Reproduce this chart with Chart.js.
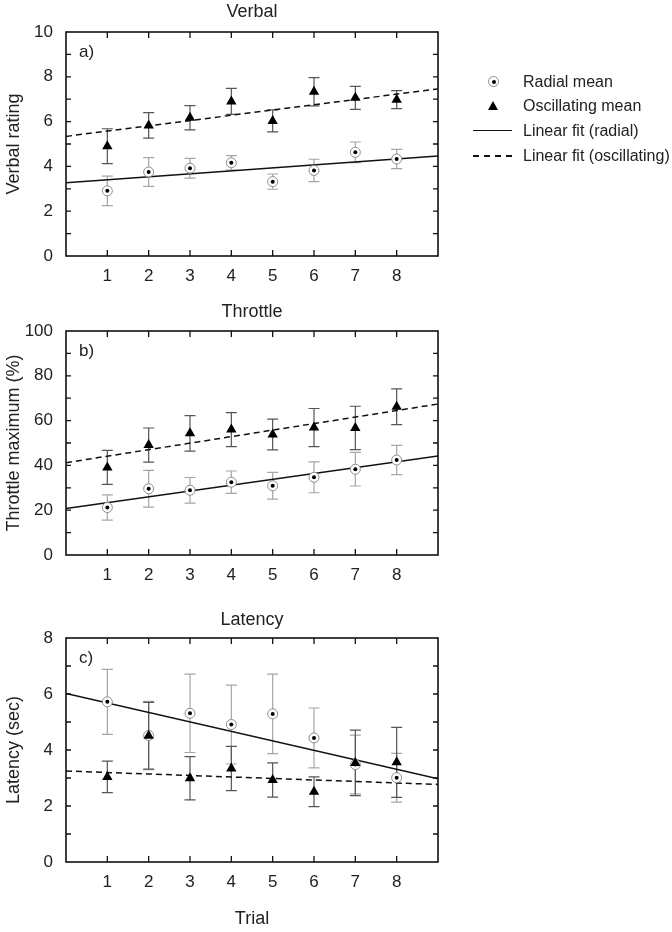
<!DOCTYPE html>
<html>
<head>
<meta charset="utf-8">
<script src="https://cdn.jsdelivr.net/npm/chart.js@4"></script>
<style>
  html, body { margin: 0; padding: 0; background: #fff; }
  body { width: 672px; height: 932px; position: relative; overflow: hidden;
         font-family: "Liberation Sans", Arial, Helvetica, sans-serif; color: #222; }
  canvas { position: absolute; left: 0; }
  .lg { position: absolute; }
  .lgtext { position: absolute; left: 523px; font-size: 16px; line-height: 20px; white-space: nowrap; color: #222; }
  .circ { width: 9px; height: 9px; border: 1px solid #8c8c8c; border-radius: 50%; background: #fff; }
  .dot { position: absolute; left: 2.5px; top: 2.5px; width: 4px; height: 4px; border-radius: 50%; background: #000; }
  .tri { width: 0; height: 0; border-left: 5.5px solid transparent; border-right: 5.5px solid transparent; border-bottom: 9.5px solid #000; }
  .solid { width: 39px; height: 0; border-top: 1.5px solid #111; }
  .dash { width: 39px; height: 1.5px; background: repeating-linear-gradient(to right, #111 0 6px, transparent 6px 11px); }
</style>
</head>
<body>
<canvas id="panelA" width="672" height="290" style="top:0px;width:672px;height:290px"></canvas>
<canvas id="panelB" width="672" height="290" style="top:299px;width:672px;height:290px"></canvas>
<canvas id="panelC" width="672" height="326" style="top:606px;width:672px;height:326px"></canvas>

<div class="lg circ" style="left:488px;top:76px"><div class="dot"></div></div>
<div class="lgtext" style="top:72px">Radial mean</div>
<div class="lg tri" style="left:488px;top:101px"></div>
<div class="lgtext" style="top:96px">Oscillating mean</div>
<div class="lg solid" style="left:473px;top:130px"></div>
<div class="lgtext" style="top:121px">Linear fit (radial)</div>
<div class="lg dash" style="left:473px;top:155px"></div>
<div class="lgtext" style="top:146px">Linear fit (oscillating)</div>

<script>
// ---------- data ----------
const trials = [1, 2, 3, 4, 5, 6, 7, 8];
const fitX = [0, 9];

const panelTitles = ['Verbal', 'Throttle', 'Latency'];
const yAxisTitles = ['Verbal rating', 'Throttle maximum (%)', 'Latency (sec)'];
const panelLetters = ['a)', 'b)', 'c)'];
const xAxisTitle = 'Trial';

// Verbal
const verbalRadialMean = [2.91, 3.75, 3.92, 4.16, 3.32, 3.82, 4.63, 4.33];
const verbalRadialErr  = [0.66, 0.64, 0.44, 0.32, 0.34, 0.50, 0.46, 0.43];
const verbalOscMean    = [4.90, 5.83, 6.17, 6.90, 6.03, 7.33, 7.06, 6.98];
const verbalOscErr     = [0.78, 0.57, 0.54, 0.58, 0.49, 0.63, 0.51, 0.40];
const verbalRadialFit  = [3.27, 4.46];
const verbalOscFit     = [5.34, 7.46];

// Throttle
const throttleRadialMean = [21.2, 29.6, 28.9, 32.5, 30.9, 34.7, 38.3, 42.4];
const throttleRadialErr  = [5.6, 8.2, 5.7, 5.0, 6.0, 6.9, 7.5, 6.5];
const throttleOscMean    = [39.1, 49.1, 54.3, 56.0, 53.8, 56.9, 56.7, 66.2];
const throttleOscErr     = [7.6, 7.6, 7.9, 7.6, 6.9, 8.5, 9.7, 8.0];
const throttleRadialFit  = [20.7, 44.2];
const throttleOscFit     = [41.2, 67.4];

// Latency
const latencyRadialMean = [5.72, 4.52, 5.31, 4.91, 5.29, 4.43, 3.48, 3.01];
const latencyRadialErr  = [1.16, 1.22, 1.40, 1.41, 1.42, 1.07, 1.05, 0.87];
const latencyOscMean    = [3.04, 4.51, 2.99, 3.34, 2.93, 2.51, 3.54, 3.56];
const latencyOscErr     = [0.56, 1.19, 0.77, 0.79, 0.61, 0.53, 1.17, 1.25];
const latencyRadialFit  = [6.02, 2.97];
const latencyOscFit     = [3.25, 2.77];

// ---------- rendering ----------
const FONT = '"Liberation Sans", Arial, Helvetica, sans-serif';
const TXT = '#222';
Chart.defaults.font.family = FONT;

const decoPlugin = {
  id: 'deco',
  beforeDatasetsDraw(chart) {
    const o = chart.options.plugins.deco;
    const { ctx, scales: { x, y } } = chart;
    o.errorBars.forEach(eb => {
      ctx.save();
      ctx.strokeStyle = eb.color;
      ctx.lineWidth = 1.2;
      eb.mean.forEach((m, i) => {
        const px = x.getPixelForValue(trials[i]);
        const top = y.getPixelForValue(m + eb.err[i]);
        const bot = y.getPixelForValue(m - eb.err[i]);
        ctx.beginPath();
        ctx.moveTo(px, top); ctx.lineTo(px, bot);
        ctx.moveTo(px - 5.5, top); ctx.lineTo(px + 5.5, top);
        ctx.moveTo(px - 5.5, bot); ctx.lineTo(px + 5.5, bot);
        ctx.stroke();
      });
      ctx.restore();
    });
  },
  afterDraw(chart) {
    const o = chart.options.plugins.deco;
    const { ctx, chartArea: a, scales: { x, y } } = chart;
    ctx.save();
    ctx.strokeStyle = '#111';
    ctx.lineWidth = 1.3;
    ctx.beginPath();
    trials.forEach(t => {
      const px = x.getPixelForValue(t);
      ctx.moveTo(px, a.bottom); ctx.lineTo(px, a.bottom - 6);
      ctx.moveTo(px, a.top); ctx.lineTo(px, a.top + 6);
    });
    for (let v = y.min + o.yStep; v < y.max - 1e-9; v += o.yStep) {
      const py = y.getPixelForValue(v);
      ctx.moveTo(a.left, py); ctx.lineTo(a.left + 5, py);
      ctx.moveTo(a.right, py); ctx.lineTo(a.right - 5, py);
    }
    ctx.stroke();
    ctx.lineWidth = 1.6;
    ctx.strokeRect(a.left, a.top, a.right - a.left, a.bottom - a.top);
    ctx.fillStyle = TXT;
    ctx.font = '17px ' + FONT;
    ctx.textAlign = 'left';
    ctx.textBaseline = 'middle';
    ctx.fillText(o.letter, a.left + 13, a.top + 20);
    ctx.font = '18px ' + FONT;
    ctx.textAlign = 'center';
    ctx.fillText(o.title, (a.left + a.right) / 2, a.top - o.titleGap);
    ctx.restore();
  }
};

function makePanel(id, p) {
  const pts = vals => trials.map((t, i) => ({ x: t, y: vals[i] }));
  const fitPts = f => fitX.map((t, i) => ({ x: t, y: f[i] }));
  return new Chart(document.getElementById(id), {
    type: 'scatter',
    data: {
      datasets: [
        { data: fitPts(p.radFit), showLine: true, borderColor: '#111', borderWidth: 1.5, pointRadius: 0, order: 5 },
        { data: fitPts(p.oscFit), showLine: true, borderColor: '#111', borderWidth: 1.5, borderDash: [6, 4], pointRadius: 0, order: 5 },
        { data: pts(p.radMean), pointStyle: 'circle', pointRadius: 5, backgroundColor: '#fff', borderColor: '#8c8c8c', borderWidth: 1, order: 3 },
        { data: pts(p.radMean), pointStyle: 'circle', pointRadius: 2, backgroundColor: '#000', borderColor: '#000', borderWidth: 0, order: 2 },
        { data: pts(p.oscMean), pointStyle: 'triangle', pointRadius: 6, backgroundColor: '#000', borderColor: '#000', borderWidth: 0, order: 1 }
      ]
    },
    options: {
      responsive: false,
      animation: false,
      events: [],
      layout: { padding: { left: 0, right: 234, top: 32, bottom: 0 } },
      plugins: {
        legend: { display: false },
        tooltip: { enabled: false },
        deco: {
          letter: p.letter, title: p.title, titleGap: p.titleGap, yStep: p.yStep,
          errorBars: [
            { mean: p.radMean, err: p.radErr, color: '#a6a6a6' },
            { mean: p.oscMean, err: p.oscErr, color: '#555' }
          ]
        }
      },
      scales: {
        x: {
          type: 'linear', min: 0, max: 9,
          grid: { display: false, drawTicks: false },
          border: { display: false },
          afterBuildTicks: s => { s.ticks = trials.map(v => ({ value: v })); },
          afterFit: s => { s.height = p.xHeight; },
          ticks: { color: TXT, font: { size: 17 }, padding: 10, maxRotation: 0, autoSkip: false },
          title: { display: !!p.xTitle, text: p.xTitle || '', color: TXT, font: { size: 18 }, padding: { top: 0, bottom: 2 } }
        },
        y: {
          type: 'linear', min: 0, max: p.yMax,
          grid: { display: false, drawTicks: false },
          border: { display: false },
          afterFit: s => { s.width = 66; },
          ticks: { stepSize: p.yStep, color: TXT, font: { size: 17 }, padding: 13,
                   callback: v => (Math.abs(v % p.yLabelStep) < 1e-9 ? String(v) : '') },
          title: { display: true, text: p.yTitle, color: TXT, font: { size: 18 }, padding: { top: 3, bottom: 0 } }
        }
      }
    },
    plugins: [decoPlugin]
  });
}

makePanel('panelA', {
  title: panelTitles[0], yTitle: yAxisTitles[0], letter: panelLetters[0], titleGap: 20,
  yMax: 10, yStep: 1, yLabelStep: 2, xHeight: 34,
  radMean: verbalRadialMean, radErr: verbalRadialErr, oscMean: verbalOscMean, oscErr: verbalOscErr,
  radFit: verbalRadialFit, oscFit: verbalOscFit
});
makePanel('panelB', {
  title: panelTitles[1], yTitle: yAxisTitles[1], letter: panelLetters[1], titleGap: 19,
  yMax: 100, yStep: 10, yLabelStep: 20, xHeight: 34,
  radMean: throttleRadialMean, radErr: throttleRadialErr, oscMean: throttleOscMean, oscErr: throttleOscErr,
  radFit: throttleRadialFit, oscFit: throttleOscFit
});
makePanel('panelC', {
  title: panelTitles[2], yTitle: yAxisTitles[2], letter: panelLetters[2], titleGap: 18,
  yMax: 8, yStep: 1, yLabelStep: 2, xHeight: 70, xTitle: xAxisTitle,
  radMean: latencyRadialMean, radErr: latencyRadialErr, oscMean: latencyOscMean, oscErr: latencyOscErr,
  radFit: latencyRadialFit, oscFit: latencyOscFit
});
</script>
</body>
</html>
